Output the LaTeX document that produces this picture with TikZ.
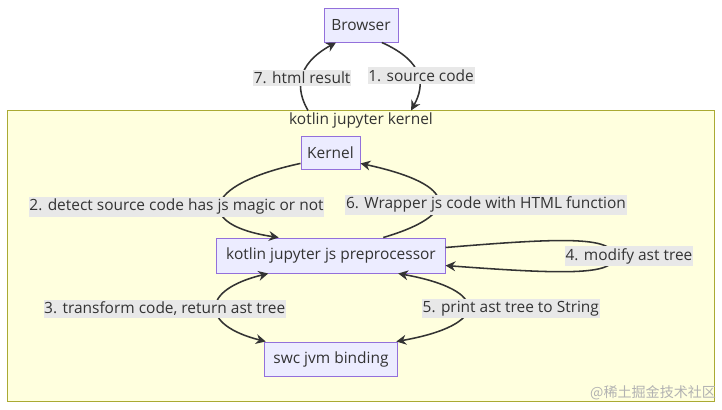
\documentclass[tikz,border=0pt]{standalone}
\usepackage{fontspec}
\setmainfont{Open Sans}
\newfontfamily\cjkfont{Noto Sans CJK SC}
\usepackage{xcolor}
\usepackage{tikz}
\usetikzlibrary{arrows.meta}

\definecolor{nodefill}{HTML}{ECECFF}
\definecolor{nodeline}{HTML}{9370DB}
\definecolor{groupfill}{HTML}{FFFFDE}
\definecolor{groupline}{HTML}{AAAA33}
\definecolor{edgeline}{HTML}{333333}
\definecolor{lblfill}{HTML}{E8E8E8}

\begin{document}
\begin{tikzpicture}[x=0.025cm, y=-0.025cm, font=\fontsize{11}{13}\selectfont,
  box/.style={draw=nodeline, fill=nodefill, line width=0.7pt, text=edgeline, inner sep=0pt},
  group/.style={draw=groupline, fill=groupfill, line width=0.7pt, inner sep=0pt},
  lbl/.style={fill=lblfill, text=edgeline, inner xsep=0.5pt, inner ysep=1.5pt},
  arr/.style={draw=edgeline, line width=1.1pt, -{Stealth[length=7pt,width=7pt]}},
  biarr/.style={arr, {Stealth[length=7pt,width=7pt]}-{Stealth[length=7pt,width=7pt]}}]
  \useasboundingbox (0,0) rectangle (722,409);

  % Kernel group
  \node[group, minimum width=17.65cm, minimum height=7.25cm] (kernelgroup) at (361,256) {};
  \node[text=edgeline] (grouptitle) at (361,120) {kotlin jupyter kernel};

  % Nodes
  \node[box, minimum width=1.85cm, minimum height=0.85cm] (browser) at (361,25) {Browser};
  \node[box, minimum width=1.475cm, minimum height=0.825cm] (kernel) at (330.5,152.5) {Kernel};
  \node[box, minimum width=5.7cm, minimum height=0.875cm] (pre) at (331,255.5) {kotlin jupyter js preprocessor};
  \node[box, minimum width=3.3cm, minimum height=0.85cm] (swc) at (331,359) {swc jvm binding};

  % Connections
  \draw[arr] (browser.-40) .. controls (425,62) and (425,85) .. (kernelgroup.71)
    node[lbl, pos=0.5, xshift=0.08cm, yshift=-0.03cm] {1. source code};
  \draw[arr] (kernel.200) .. controls (200,185) and (195,225) .. (pre.161)
    node[lbl, pos=0.5, xshift=-1.1cm, yshift=-0.07cm] {2. detect source code has js magic or not};
  \draw[biarr] (pre.196) .. controls (200,290) and (200,325) .. (swc.165)
    node[lbl, pos=0.5, xshift=-1.3cm, yshift=-0.03cm] {3. transform code, return ast tree};
  \draw[arr] (pre.4) .. controls (560,238) and (612,236) .. (614,256)
    .. controls (616,276) and (560,274) .. (pre.-5)
    node[lbl] at (629,256) {4. modify ast tree};
  \draw[biarr] (pre.-15) .. controls (490,290) and (490,325) .. (swc.15)
    node[lbl, pos=0.5, xshift=1.1cm, yshift=-0.03cm] {5. print ast tree to String};
  \draw[arr] (pre.19) .. controls (460,215) and (460,185) .. (kernel.-20)
    node[lbl, pos=0.5, xshift=1.2cm, yshift=-0.12cm] {6. Wrapper js code with HTML function};
  \draw[arr] (kernelgroup.110) .. controls (296,90) and (295,65) .. (browser.215)
    node[lbl, pos=0.5, yshift=-0.02cm] {7. html result};

  % Watermark
  \node[font=\cjkfont\fontsize{10}{12}\selectfont, text=black!30, anchor=east] (mark) at (721,393) {@稀土掘金技术社区};
\end{tikzpicture}
\end{document}
